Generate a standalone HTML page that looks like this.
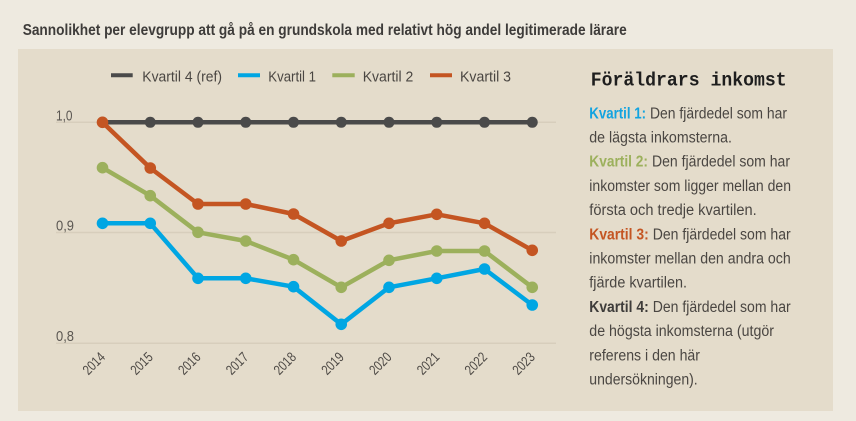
<!DOCTYPE html>
<html><head><meta charset="utf-8"><style>
html,body{margin:0;padding:0;background:#eeeae0;}
svg{display:block;}
</style></head><body>
<svg width="856" height="421" viewBox="0 0 856 421" xmlns="http://www.w3.org/2000/svg">
<rect x="0" y="0" width="856" height="421" fill="#eeeae0"/>
<text x="22.7" y="35" font-family="'Liberation Sans Narrow','Liberation Sans',sans-serif" font-weight="bold" font-size="15.5" fill="#3e3c3a" textLength="604" lengthAdjust="spacingAndGlyphs">Sannolikhet per elevgrupp att gå på en grundskola med relativt hög andel legitimerade lärare</text>
<rect x="18" y="49" width="815" height="362" fill="#e4dccb"/>

<!-- legend -->
<g font-family="'Liberation Sans Narrow','Liberation Sans',sans-serif" font-size="15" fill="#4a4642">
<line x1="111" y1="75.3" x2="132.7" y2="75.3" stroke="#4a4a4a" stroke-width="4"/>
<text x="142.3" y="81.3" textLength="79.7" lengthAdjust="spacingAndGlyphs">Kvartil 4 (ref)</text>
<line x1="238" y1="75.3" x2="260" y2="75.3" stroke="#00a6e3" stroke-width="4"/>
<text x="268.3" y="81.3" textLength="47.7" lengthAdjust="spacingAndGlyphs">Kvartil 1</text>
<line x1="332.3" y1="75.3" x2="354.7" y2="75.3" stroke="#9cb05c" stroke-width="4"/>
<text x="362.7" y="81.3" textLength="50.6" lengthAdjust="spacingAndGlyphs">Kvartil 2</text>
<line x1="430" y1="75.3" x2="452" y2="75.3" stroke="#c45522" stroke-width="4"/>
<text x="460" y="81.3" textLength="51" lengthAdjust="spacingAndGlyphs">Kvartil 3</text>
</g>

<!-- grid -->
<g stroke="#d7cebc" stroke-width="1.5">
<line x1="56" y1="122.3" x2="556" y2="122.3"/>
<line x1="56" y1="232.5" x2="556" y2="232.5"/>
<line x1="56" y1="343.3" x2="556" y2="343.3"/>
</g>
<g font-family="'Liberation Sans Narrow','Liberation Sans',sans-serif" font-size="15" fill="#5c5853">
<text x="56" y="120.5" textLength="16.5" lengthAdjust="spacingAndGlyphs">1,0</text>
<text x="56" y="230.5" textLength="18" lengthAdjust="spacingAndGlyphs">0,9</text>
<text x="56" y="340.8" textLength="18" lengthAdjust="spacingAndGlyphs">0,8</text>
</g>

<!-- year labels -->
<g font-family="'Liberation Sans Narrow','Liberation Sans',sans-serif" font-size="14" fill="#4e4a46" text-anchor="end">
<text transform="translate(106,358) rotate(-45)" textLength="25" lengthAdjust="spacingAndGlyphs">2014</text>
<text transform="translate(153.75,358) rotate(-45)" textLength="25" lengthAdjust="spacingAndGlyphs">2015</text>
<text transform="translate(201.5,358) rotate(-45)" textLength="25" lengthAdjust="spacingAndGlyphs">2016</text>
<text transform="translate(249.25,358) rotate(-45)" textLength="25" lengthAdjust="spacingAndGlyphs">2017</text>
<text transform="translate(297,358) rotate(-45)" textLength="25" lengthAdjust="spacingAndGlyphs">2018</text>
<text transform="translate(344.75,358) rotate(-45)" textLength="25" lengthAdjust="spacingAndGlyphs">2019</text>
<text transform="translate(392.5,358) rotate(-45)" textLength="25" lengthAdjust="spacingAndGlyphs">2020</text>
<text transform="translate(440.25,358) rotate(-45)" textLength="25" lengthAdjust="spacingAndGlyphs">2021</text>
<text transform="translate(488,358) rotate(-45)" textLength="25" lengthAdjust="spacingAndGlyphs">2022</text>
<text transform="translate(535.75,358) rotate(-45)" textLength="25" lengthAdjust="spacingAndGlyphs">2023</text>
</g>

<!-- series: Kvartil 4 -->
<g fill="#4a4a4a">
<polyline points="102.5,122.3 532.25,122.3" fill="none" stroke="#4a4a4a" stroke-width="4.5"/>
<circle cx="102.5" cy="122.3" r="5.5"/><circle cx="150.25" cy="122.3" r="5.5"/><circle cx="198" cy="122.3" r="5.5"/><circle cx="245.75" cy="122.3" r="5.5"/><circle cx="293.5" cy="122.3" r="5.5"/><circle cx="341.25" cy="122.3" r="5.5"/><circle cx="389" cy="122.3" r="5.5"/><circle cx="436.75" cy="122.3" r="5.5"/><circle cx="484.5" cy="122.3" r="5.5"/><circle cx="532.25" cy="122.3" r="5.5"/>
</g>
<!-- Kvartil 1 -->
<g fill="#00a6e3">
<polyline points="102.5,223.3 150.25,223.3 198,278.3 245.75,278.3 293.5,286.7 341.25,324.3 389,287.3 436.75,278.3 484.5,269 532.25,305" fill="none" stroke="#00a6e3" stroke-width="4.5" stroke-linejoin="round"/>
<circle cx="102.5" cy="223.3" r="5.8"/><circle cx="150.25" cy="223.3" r="5.8"/><circle cx="198" cy="278.3" r="5.8"/><circle cx="245.75" cy="278.3" r="5.8"/><circle cx="293.5" cy="286.7" r="5.8"/><circle cx="341.25" cy="324.3" r="5.8"/><circle cx="389" cy="287.3" r="5.8"/><circle cx="436.75" cy="278.3" r="5.8"/><circle cx="484.5" cy="269" r="5.8"/><circle cx="532.25" cy="305" r="5.8"/>
</g>
<!-- Kvartil 2 -->
<g fill="#9cb05c">
<polyline points="102.5,167.7 150.25,195.7 198,232.3 245.75,241 293.5,259.7 341.25,287.3 389,260.3 436.75,251 484.5,251 532.25,287.3" fill="none" stroke="#9cb05c" stroke-width="4.5" stroke-linejoin="round"/>
<circle cx="102.5" cy="167.7" r="5.8"/><circle cx="150.25" cy="195.7" r="5.8"/><circle cx="198" cy="232.3" r="5.8"/><circle cx="245.75" cy="241" r="5.8"/><circle cx="293.5" cy="259.7" r="5.8"/><circle cx="341.25" cy="287.3" r="5.8"/><circle cx="389" cy="260.3" r="5.8"/><circle cx="436.75" cy="251" r="5.8"/><circle cx="484.5" cy="251" r="5.8"/><circle cx="532.25" cy="287.3" r="5.8"/>
</g>
<!-- Kvartil 3 -->
<g fill="#c45522">
<polyline points="102.5,122.3 150.25,168 198,204 245.75,204 293.5,214 341.25,241 389,223.3 436.75,214.3 484.5,223.3 532.25,250.3" fill="none" stroke="#c45522" stroke-width="4.5" stroke-linejoin="round"/>
<circle cx="102.5" cy="122.3" r="5.8"/><circle cx="150.25" cy="168" r="5.8"/><circle cx="198" cy="204" r="5.8"/><circle cx="245.75" cy="204" r="5.8"/><circle cx="293.5" cy="214" r="5.8"/><circle cx="341.25" cy="241" r="5.8"/><circle cx="389" cy="223.3" r="5.8"/><circle cx="436.75" cy="214.3" r="5.8"/><circle cx="484.5" cy="223.3" r="5.8"/><circle cx="532.25" cy="250.3" r="5.8"/>
</g>

<!-- right text -->
<text x="590.7" y="85.7" font-family="'Liberation Mono',monospace" font-weight="bold" font-size="19" fill="#1e1e1e" textLength="196" lengthAdjust="spacingAndGlyphs">Föräldrars inkomst</text>
<g font-family="'Liberation Sans Narrow','Liberation Sans',sans-serif" font-size="15.5" fill="#4a4642">
<text x="589.3" y="118.3" font-weight="bold" fill="#12a3e0" textLength="56.7" lengthAdjust="spacingAndGlyphs">Kvartil 1:</text>
<text x="650" y="118.3" textLength="137" lengthAdjust="spacingAndGlyphs">Den fjärdedel som har</text>
<text x="589.3" y="142.5" textLength="142.7" lengthAdjust="spacingAndGlyphs">de lägsta inkomsterna.</text>
<text x="589.3" y="166.7" font-weight="bold" fill="#9cb05c" textLength="58.7" lengthAdjust="spacingAndGlyphs">Kvartil 2:</text>
<text x="652" y="166.7" textLength="138" lengthAdjust="spacingAndGlyphs">Den fjärdedel som har</text>
<text x="589.3" y="190.9" textLength="201.7" lengthAdjust="spacingAndGlyphs">inkomster som ligger mellan den</text>
<text x="589.3" y="215.1" textLength="167.4" lengthAdjust="spacingAndGlyphs">första och tredje kvartilen.</text>
<text x="589.3" y="239.3" font-weight="bold" fill="#c45522" textLength="59.4" lengthAdjust="spacingAndGlyphs">Kvartil 3:</text>
<text x="652.7" y="239.3" textLength="138" lengthAdjust="spacingAndGlyphs">Den fjärdedel som har</text>
<text x="589.3" y="263.5" textLength="201.4" lengthAdjust="spacingAndGlyphs">inkomster mellan den andra och</text>
<text x="589.3" y="287.7" textLength="97.7" lengthAdjust="spacingAndGlyphs">fjärde kvartilen.</text>
<text x="589.3" y="311.9" font-weight="bold" fill="#3e3c3a" textLength="59.4" lengthAdjust="spacingAndGlyphs">Kvartil 4:</text>
<text x="652.7" y="311.9" textLength="138" lengthAdjust="spacingAndGlyphs">Den fjärdedel som har</text>
<text x="589.3" y="336.1" textLength="184.7" lengthAdjust="spacingAndGlyphs">de högsta inkomsterna (utgör</text>
<text x="589.3" y="360.3" textLength="110.7" lengthAdjust="spacingAndGlyphs">referens i den här</text>
<text x="589.3" y="384.5" textLength="108.4" lengthAdjust="spacingAndGlyphs">undersökningen).</text>
</g>
</svg>
</body></html>
